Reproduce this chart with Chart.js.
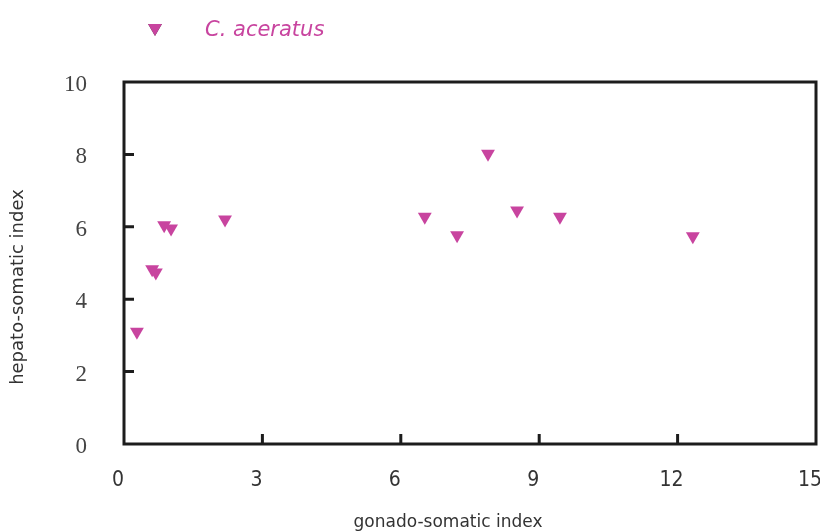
<!DOCTYPE html>
<html>
<head>
<meta charset="utf-8">
<script src="https://cdn.jsdelivr.net/npm/chart.js@4/dist/chart.umd.min.js"></script>
<style>
html,body{margin:0;padding:0;background:#fff;}
#wrap{width:820px;height:532px;position:relative;}
</style>
</head>
<body>
<div id="wrap"><canvas id="c" width="820" height="532"></canvas></div>
<script>
const seriesName = 'C. aceratus';
const gsi = [0.28, 0.61, 0.69, 0.87, 1.02, 2.19, 6.52, 7.22, 7.89, 8.52, 9.45, 12.33];
const hsi = [3.10, 4.83, 4.74, 6.04, 5.95, 6.20, 6.28, 5.77, 8.02, 6.45, 6.28, 5.74];
const xTicks = [0, 3, 6, 9, 12, 15];
const yTicks = [0, 2, 4, 6, 8, 10];
const xTitle = 'gonado-somatic index';
const yTitle = 'hepato-somatic index';

const markerColor = '#c8449f';
const points = gsi.map((x, i) => ({x: x, y: hsi[i]}));

const framePlugin = {
  id: 'frame',
  afterDraw(chart) {
    const {ctx, chartArea: a, scales} = chart;
    ctx.save();
    ctx.strokeStyle = '#1c1c1c';
    ctx.lineWidth = 3;
    ctx.strokeRect(a.left, a.top, a.right - a.left, a.bottom - a.top);
    ctx.beginPath();
    yTicks.slice(1, -1).forEach(v => {
      const py = scales.y.getPixelForValue(v);
      ctx.moveTo(a.left, py); ctx.lineTo(a.left + 10, py);
    });
    xTicks.slice(1, -1).forEach(v => {
      const px = scales.x.getPixelForValue(v);
      ctx.moveTo(px, a.bottom); ctx.lineTo(px, a.bottom - 10);
    });
    ctx.stroke();
    // axis titles
    ctx.fillStyle = '#333';
    ctx.textAlign = 'center';
    ctx.textBaseline = 'middle';
    ctx.font = '17px "DejaVu Sans"';
    ctx.fillText(xTitle, 448, 523);
    ctx.save();
    ctx.translate(18, 287);
    ctx.rotate(-Math.PI / 2);
    ctx.font = '18px "DejaVu Sans"';
    ctx.fillText(yTitle, 0, 0);
    ctx.restore();
    // legend
    Chart.helpers.drawPoint(ctx, {pointStyle: 'triangle', radius: 8, rotation: 180}, 155, 28);
    ctx.fillStyle = markerColor;
    ctx.fill();
    ctx.font = 'italic 21px "DejaVu Sans"';
    ctx.fillStyle = markerColor;
    ctx.textAlign = 'left';
    ctx.fillText(seriesName, 205, 31);
    ctx.restore();
  }
};

new Chart(document.getElementById('c'), {
  type: 'scatter',
  data: {
    datasets: [{
      label: seriesName,
      data: points,
      pointStyle: 'triangle',
      rotation: 180,
      pointRadius: 8,
      pointHoverRadius: 8,
      backgroundColor: markerColor,
      borderColor: markerColor,
      borderWidth: 0
    }]
  },
  options: {
    responsive: false,
    animation: false,
    layout: {autoPadding: false, padding: {left: 0, top: 82, right: 4, bottom: 0}},
    plugins: {legend: {display: false}, tooltip: {enabled: false}},
    scales: {
      x: {
        type: 'linear', min: 0, max: 15,
        afterBuildTicks: s => { s.ticks = xTicks.map(v => ({value: v})); },
        afterFit: s => { s.height = 88; s.paddingLeft = 0; s.paddingRight = 0; },
        grid: {display: false, drawTicks: false},
        border: {display: false},
        ticks: {padding: 24, labelOffset: -6, color: '#333', font: {family: '"Liberation Sans Narrow", "DejaVu Sans Condensed", sans-serif', size: 21}}
      },
      y: {
        type: 'linear', min: 0, max: 10,
        afterBuildTicks: s => { s.ticks = yTicks.map(v => ({value: v})); },
        afterFit: s => { s.width = 124; s.paddingTop = 0; s.paddingBottom = 0; },
        grid: {display: false, drawTicks: false},
        border: {display: false},
        ticks: {padding: 37, labelOffset: 3, color: '#444', font: {family: '"Liberation Serif", serif', size: 23}}
      }
    }
  },
  plugins: [framePlugin]
});
</script>
</body>
</html>
